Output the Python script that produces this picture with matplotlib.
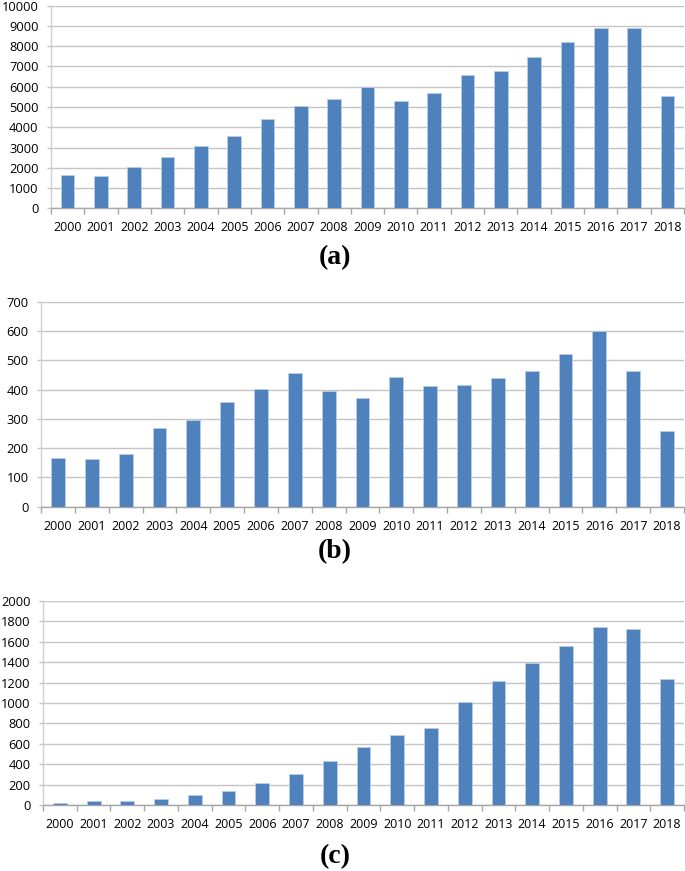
import matplotlib
matplotlib.use("Agg")
import matplotlib.pyplot as plt
import numpy as np

years = [str(y) for y in range(2000, 2019)]
values_a = [1620, 1600, 2030, 2530, 3070, 3560, 4430, 5060, 5400, 6000,
            5280, 5690, 6560, 6780, 7450, 8210, 8910, 8880, 5540]
values_b = [166, 163, 179, 270, 295, 358, 402, 456, 395, 370,
            443, 413, 414, 438, 463, 523, 600, 463, 257]
values_c = [26, 39, 46, 65, 98, 137, 218, 303, 437, 567,
            687, 759, 1010, 1212, 1394, 1560, 1746, 1726, 1231]
panel_labels = ["(a)", "(b)", "(c)"]

W, H = 685, 871
fig = plt.figure(figsize=(W / 100, H / 100), dpi=100)

bar_color = "#4f81bd"
grid_color = "#c4c4c4"
axis_color = "#a6a6a6"
tick_font = "Open Sans"

# (left_px, right_px, top_px, bottom_px, ymax, ystep, label_y)
layouts = [
    (51, 684, 5.7, 208.3, 10000, 1000, 258, values_a),
    (41, 684, 301.7, 506.7, 700, 100, 552, values_b),
    (43, 684, 600.7, 805.3, 2000, 200, 857, values_c),
]

for (l, r, t, b, ymax, ystep, ly, vals), lab in zip(layouts, panel_labels):
    ax = fig.add_axes([l / W, 1 - b / H, (r - l) / W, (b - t) / H])
    x = np.arange(len(years))
    ax.bar(x, vals, width=0.41, color=bar_color, edgecolor="#b9cde5",
           linewidth=0.6, zorder=3)
    ax.set_xlim(-0.5, len(years) - 0.5)
    ax.set_ylim(0, ymax)
    ax.set_yticks(np.arange(0, ymax + 1, ystep))
    ax.yaxis.grid(True, color=grid_color, linewidth=1.0, zorder=0)
    ax.set_axisbelow(True)
    for s in ["top", "right"]:
        ax.spines[s].set_visible(False)
    ax.spines["left"].set_color("#d0d0d0")
    ax.spines["bottom"].set_color(axis_color)
    ax.spines["left"].set_linewidth(1.0)
    ax.spines["bottom"].set_linewidth(1.0)
    ax.set_xticks(x)
    ax.set_xticklabels(years)
    ax.set_xticks(np.arange(-0.5, len(years)), minor=True)
    ax.tick_params(axis="x", which="major", length=0, pad=9.5,
                   labelsize=9, labelcolor="#000000")
    ax.tick_params(axis="x", which="minor", length=4, color=axis_color,
                   width=1.0)
    ax.tick_params(axis="y", length=3, color=grid_color, width=1.0, pad=6,
                   labelsize=9.3, labelcolor="#000000")
    for tl in ax.get_xticklabels() + ax.get_yticklabels():
        tl.set_fontfamily(tick_font)
    fig.text(335 / W, 1 - ly / H, lab, ha="center", va="center",
             fontsize=20, fontweight="bold", family="Liberation Serif")

fig.savefig("out.png", dpi=100)
